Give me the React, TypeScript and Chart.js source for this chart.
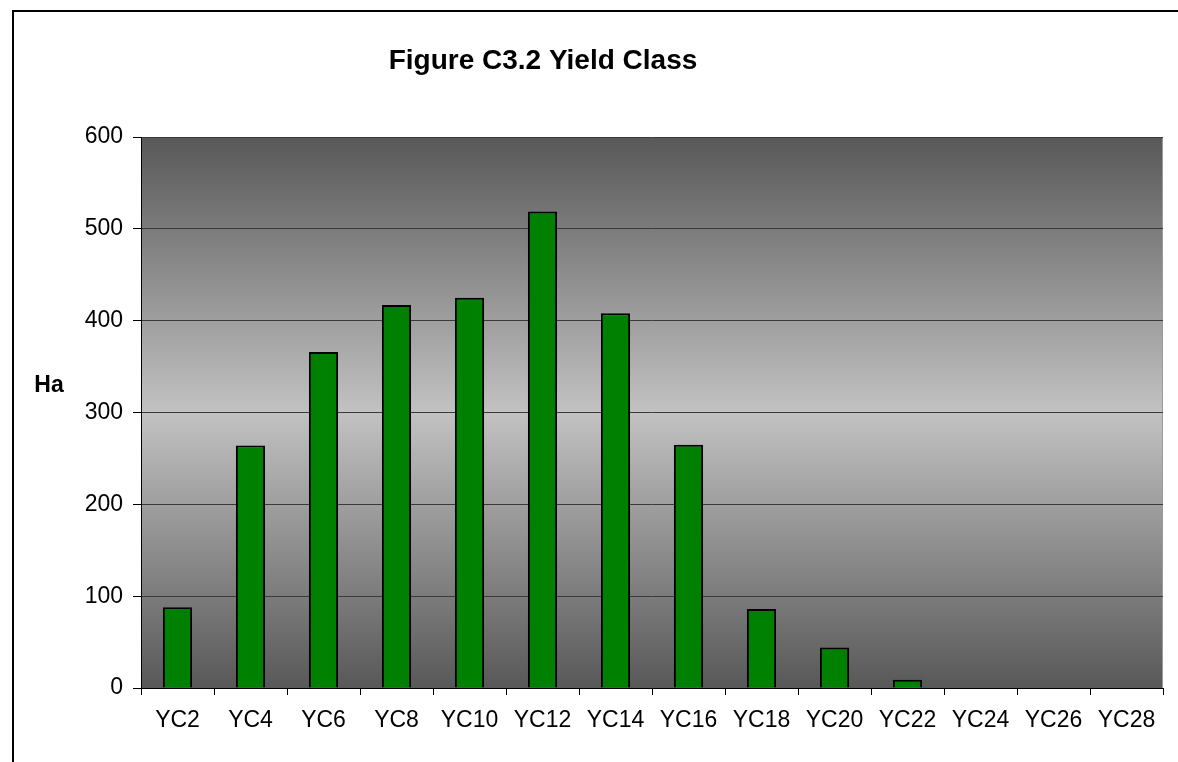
import React, { useEffect, useRef } from "react";
import { Chart, registerables } from "chart.js";

Chart.register(...registerables);

const categories = ["YC2", "YC4", "YC6", "YC8", "YC10", "YC12", "YC14", "YC16", "YC18", "YC20", "YC22", "YC24", "YC26", "YC28"];
const hectares = [88, 264, 366, 417, 425, 519, 408, 265, 86, 44, 9, 0, 0, 0];
const yMin = 0;
const yMax = 600;
const yStep = 100;
const titleText = "Figure C3.2 Yield Class";
const yAxisTitle = "Ha";

const FONT = "'Liberation Sans', Arial, sans-serif";

const backgroundPlugin = {
  id: "plotBackground",
  beforeDraw(chart: any) {
    const { ctx, chartArea } = chart;
    const { left, top, right, bottom } = chartArea;
    const g = ctx.createLinearGradient(0, top, 0, bottom);
    g.addColorStop(0, "#585858");
    g.addColorStop(0.5, "#c2c2c2");
    g.addColorStop(1, "#585858");
    ctx.save();
    ctx.fillStyle = g;
    ctx.fillRect(left, top, right - left, bottom - top);
    ctx.strokeStyle = "#9a9a9a";
    ctx.lineWidth = 1;
    ctx.beginPath();
    ctx.moveTo(left, top + 0.5);
    ctx.lineTo(right - 0.5, top + 0.5);
    ctx.lineTo(right - 0.5, bottom);
    ctx.stroke();
    ctx.restore();
  },
  afterDraw(chart: any) {
    const { ctx } = chart;
    ctx.save();
    ctx.fillStyle = "#000";
    ctx.font = `bold 28px ${FONT}`;
    ctx.textAlign = "center";
    ctx.textBaseline = "alphabetic";
    ctx.fillText(titleText, 543, 69);
    ctx.font = `bold 23px ${FONT}`;
    ctx.textBaseline = "middle";
    ctx.fillText(yAxisTitle, 49, 386);
    ctx.restore();
  },
};

export default function App() {
  const canvasRef = useRef<HTMLCanvasElement | null>(null);

  useEffect(() => {
    const canvas = canvasRef.current;
    if (!canvas) return;
    const chart = new Chart(canvas, {
      type: "bar",
      data: {
        labels: categories,
        datasets: [
          {
            data: hectares,
            backgroundColor: "#008000",
            borderColor: "#000000",
            borderWidth: 2,
            barPercentage: 0.4,
            categoryPercentage: 1,
          },
        ],
      },
      options: {
        animation: false,
        responsive: false,
        maintainAspectRatio: false,
        layout: { padding: { left: 0, top: 137, right: 15, bottom: 0 } },
        plugins: {
          legend: { display: false },
          title: { display: false },
          tooltip: { enabled: false },
        },
        scales: {
          x: {
            offset: true,
            grid: {
              display: true,
              offset: true,
              drawOnChartArea: false,
              tickLength: 7,
              tickColor: "#000",
            },
            border: { display: true, color: "#000", width: 1 },
            ticks: {
              color: "#000",
              font: { family: FONT, size: 23 },
              padding: 12,
              maxRotation: 0,
              autoSkip: false,
            },
            afterFit: (s: any) => {
              s.height = 74;
            },
          },
          y: {
            min: yMin,
            max: yMax,
            grid: {
              color: "#3a3a3a",
              lineWidth: 1,
              tickLength: 8,
              tickColor: "#000",
            },
            border: { display: true, color: "#000", width: 1 },
            ticks: {
              stepSize: yStep,
              color: "#000",
              font: { family: FONT, size: 23 },
              padding: 10,
            },
            afterFit: (s: any) => {
              s.width = 141;
            },
          },
        },
      },
      plugins: [backgroundPlugin],
    });
    return () => chart.destroy();
  }, []);

  return (
    <div style={{ position: "fixed", left: 0, top: 0, width: 1178, height: 762, overflow: "hidden", background: "#fff" }}>
      <div
        style={{
          position: "absolute",
          left: 12,
          top: 10,
          width: 1200,
          height: 800,
          borderLeft: "2px solid #000",
          borderTop: "2px solid #000",
          boxSizing: "border-box",
        }}
      />
      <canvas ref={canvasRef} width={1178} height={762} style={{ position: "absolute", left: 0, top: 0, width: 1178, height: 762 }} />
    </div>
  );
}
